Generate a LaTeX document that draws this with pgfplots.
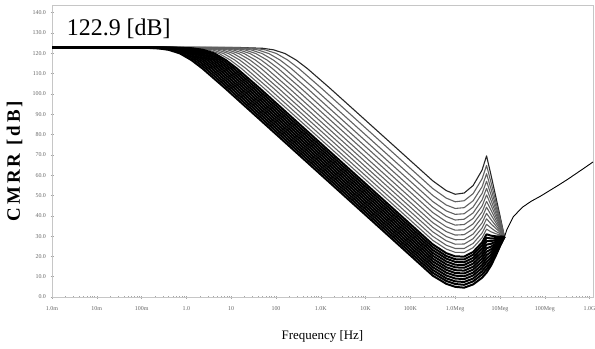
\documentclass[border=0pt]{standalone}
\usepackage{fontspec}
\setmainfont{Liberation Serif}
\usepackage{pgfplots}
\pgfplotsset{compat=1.18}
\begin{document}
\begin{tikzpicture}
\begin{axis}[
  at={(0,0)}, anchor=south west,
  scale only axis, width=541bp, height=292bp,
  xmin=-3, xmax=9.076, ymin=0, ymax=143.8,
  axis line style={gray!45, line width=0.6pt},
  xtick={-3,...,9},
  xticklabels={1.0m,10m,100m,1.0,10,100,1.0K,10K,100K,1.0Meg,10Meg,100Meg,1.0G},
  minor xtick={-2.699,-2.523,-2.398,-2.301,-2.222,-2.155,-2.097,-2.046,
    -1.699,-1.523,-1.398,-1.301,-1.222,-1.155,-1.097,-1.046,
    -0.699,-0.523,-0.398,-0.301,-0.222,-0.155,-0.097,-0.046,
    0.301,0.477,0.602,0.699,0.778,0.845,0.903,0.954,
    1.301,1.477,1.602,1.699,1.778,1.845,1.903,1.954,
    2.301,2.477,2.602,2.699,2.778,2.845,2.903,2.954,
    3.301,3.477,3.602,3.699,3.778,3.845,3.903,3.954,
    4.301,4.477,4.602,4.699,4.778,4.845,4.903,4.954,
    5.301,5.477,5.602,5.699,5.778,5.845,5.903,5.954,
    6.301,6.477,6.602,6.699,6.778,6.845,6.903,6.954,
    7.301,7.477,7.602,7.699,7.778,7.845,7.903,7.954,
    8.301,8.477,8.602,8.699,8.778,8.845,8.903,8.954},
  ytick={0,10,...,140},
  yticklabel={\pgfmathprintnumber[fixed,fixed zerofill,precision=1]{\tick}},
  /pgf/number format/assume math mode=true,
  tick align=center,
  major tick length=3bp, minor tick length=2bp,
  tick style={gray!70, line width=0.5pt},
  xtick pos=bottom, ytick pos=left,
  ticklabel style={font=\fontsize{6}{7}\selectfont, text=black!60},
  xticklabel style={yshift=-5bp},
  yticklabel style={xshift=-1bp},
  xlabel={Frequency [Hz]},
  xlabel style={at={(axis description cs:0.5,0)}, anchor=center, yshift=-39bp, font=\fontsize{13}{15}\selectfont},
  ylabel={\textbf{CMRR [dB]}},
  ylabel style={at={(axis description cs:-0.069,0.47)}, anchor=center, font=\fontsize{19}{21}\selectfont\addfontfeature{LetterSpace=16}},
  clip=true,
  lo/.style={black, line width=2.0pt, line join=round},
  hi/.style={black!62, line width=1.1pt, line join=round},
]
% upper (lighter) curves
\addplot[black!85, line width=1.1pt, line join=round] coordinates {(-3,122.9)(1.20,122.86)(1.70,122.49)(1.95,121.7)(2.20,119.9)(2.45,116.7)(2.70,112.5)(3.20,102.9)(5.5,57.2)(5.8,52.4)(6.0,50.6)(6.2,51.2)(6.4,54.9)(6.6,62.5)(6.7,69.5)(6.8,60.0)(6.9,50.0)(7.0,40.0)(7.1,29.6)};
\addplot[hi] coordinates {(-3,122.9)(1.01,122.86)(1.51,122.49)(1.76,121.7)(2.01,119.9)(2.26,116.7)(2.51,112.5)(3.01,102.9)(5.5,53.4)(5.8,48.7)(6.0,46.9)(6.2,47.4)(6.4,50.9)(6.6,58.2)(6.7,64.8)(6.8,56.4)(6.9,47.6)(7.0,38.8)(7.1,29.6)};
\addplot[hi] coordinates {(-3,122.9)(0.84,122.86)(1.34,122.49)(1.59,121.7)(1.84,119.9)(2.09,116.7)(2.34,112.5)(2.84,102.9)(5.5,50.0)(5.8,45.3)(6.0,43.6)(6.2,44.0)(6.4,47.4)(6.6,54.3)(6.7,60.7)(6.8,53.2)(6.9,45.4)(7.0,37.7)(7.1,29.6)};
\addplot[hi] coordinates {(-3,122.9)(0.69,122.86)(1.19,122.49)(1.44,121.7)(1.69,119.9)(1.94,116.7)(2.19,112.5)(2.69,102.9)(5.5,47.0)(5.8,42.4)(6.0,40.7)(6.2,41.0)(6.4,44.3)(6.6,51.0)(6.7,57.0)(6.8,50.3)(6.9,43.5)(7.0,36.7)(7.1,29.6)};
\addplot[hi] coordinates {(-3,122.9)(0.55,122.86)(1.05,122.49)(1.30,121.7)(1.55,119.9)(1.80,116.7)(2.05,112.5)(2.55,102.9)(5.5,44.2)(5.8,39.7)(6.0,37.9)(6.2,38.3)(6.4,41.4)(6.6,47.8)(6.7,53.5)(6.8,47.6)(6.9,41.7)(7.0,35.8)(7.1,29.6)};
\addplot[hi] coordinates {(-3,122.9)(0.42,122.86)(0.92,122.49)(1.17,121.7)(1.42,119.9)(1.67,116.7)(1.92,112.5)(2.42,102.9)(5.5,41.6)(5.8,37.1)(6.0,35.4)(6.2,35.7)(6.4,38.7)(6.6,44.8)(6.7,50.3)(6.8,45.2)(6.9,40.0)(7.0,35.0)(7.1,29.6)};
\addplot[hi] coordinates {(-3,122.9)(0.29,122.86)(0.79,122.49)(1.04,121.7)(1.29,119.9)(1.54,116.7)(1.79,112.5)(2.29,102.9)(5.5,39.0)(5.8,34.6)(6.0,32.9)(6.2,33.1)(6.4,36.0)(6.6,41.9)(6.7,47.1)(6.8,42.7)(6.9,38.3)(7.0,34.2)(7.1,29.6)};
\addplot[hi] coordinates {(-3,122.9)(0.17,122.86)(0.67,122.49)(0.92,121.7)(1.17,119.9)(1.42,116.7)(1.67,112.5)(2.17,102.9)(5.5,36.6)(5.8,32.2)(6.0,30.5)(6.2,30.7)(6.4,33.5)(6.6,39.2)(6.7,44.2)(6.8,40.4)(6.9,36.8)(7.0,33.4)(7.1,29.6)};
\addplot[hi] coordinates {(-3,122.9)(0.05,122.86)(0.55,122.49)(0.80,121.7)(1.05,119.9)(1.30,116.7)(1.55,112.5)(2.05,102.9)(5.5,34.3)(5.8,29.8)(6.0,28.2)(6.2,28.3)(6.4,31.0)(6.6,36.5)(6.7,41.2)(6.8,38.1)(6.9,35.3)(7.0,32.6)(7.1,29.6)};
\addplot[hi] coordinates {(-3,122.9)(-0.06,122.86)(0.44,122.49)(0.69,121.7)(0.94,119.9)(1.19,116.7)(1.44,112.5)(1.94,102.9)(5.5,32.1)(5.8,27.7)(6.0,26.0)(6.2,26.1)(6.4,28.7)(6.6,34.0)(6.7,38.5)(6.8,36.0)(6.9,33.9)(7.0,31.9)(7.1,29.6)};
\addplot[hi] coordinates {(-3,122.9)(-0.17,122.86)(0.33,122.49)(0.58,121.7)(0.83,119.9)(1.08,116.7)(1.33,112.5)(1.83,102.9)(5.5,29.9)(5.8,25.5)(6.0,23.9)(6.2,23.9)(6.4,26.4)(6.6,31.5)(6.7,35.8)(6.8,34.0)(6.9,32.4)(7.0,31.2)(7.1,29.6)};
\addplot[hi] coordinates {(-3,122.9)(-0.27,122.86)(0.23,122.49)(0.48,121.7)(0.73,119.9)(0.98,116.7)(1.23,112.5)(1.73,102.9)(5.5,27.9)(5.8,23.6)(6.0,22.0)(6.2,21.9)(6.4,24.3)(6.6,29.2)(6.7,33.4)(6.8,32.1)(6.9,31.2)(7.0,30.6)(7.1,29.6)};
% lower (dense, black) curves
\addplot[lo] coordinates {(-3,122.9)(-0.37,122.86)(0.13,122.49)(0.38,121.7)(0.63,119.9)(0.88,116.7)(1.13,112.5)(1.63,102.9)(5.5,25.9)(5.8,21.6)(6.0,20.0)(6.2,19.9)(6.4,22.2)(6.6,26.9)(6.7,30.9)(6.8,30.2)(6.9,29.9)(7.0,29.9)(7.1,29.6)};
\addplot[lo] coordinates {(-3,122.9)(-0.44,122.86)(0.06,122.49)(0.31,121.7)(0.56,119.9)(0.81,116.7)(1.06,112.5)(1.56,102.9)(5.5,24.5)(5.8,20.2)(6.0,18.6)(6.2,18.5)(6.4,20.8)(6.6,25.4)(6.7,29.2)(6.8,28.8)(6.9,29.0)(7.0,29.5)(7.1,29.6)};
\addplot[lo] coordinates {(-3,122.9)(-0.51,122.86)(-0.01,122.49)(0.24,121.7)(0.49,119.9)(0.74,116.7)(0.99,112.5)(1.49,102.9)(5.5,23.1)(5.8,18.9)(6.0,17.3)(6.2,17.1)(6.4,19.3)(6.6,23.8)(6.7,27.5)(6.8,27.5)(6.9,28.1)(7.0,29.0)(7.1,29.6)};
\addplot[lo] coordinates {(-3,122.9)(-0.58,122.86)(-0.08,122.49)(0.17,121.7)(0.42,119.9)(0.67,116.7)(0.92,112.5)(1.42,102.9)(5.5,21.7)(5.8,17.5)(6.0,15.9)(6.2,15.8)(6.4,17.9)(6.6,22.2)(6.7,25.8)(6.8,26.2)(6.9,27.2)(7.0,28.6)(7.1,29.6)};
\addplot[lo] coordinates {(-3,122.9)(-0.65,122.86)(-0.15,122.49)(0.10,121.7)(0.35,119.9)(0.60,116.7)(0.85,112.5)(1.35,102.9)(5.5,20.3)(5.8,16.1)(6.0,14.6)(6.2,14.4)(6.4,16.4)(6.6,20.6)(6.7,24.0)(6.8,24.8)(6.9,26.3)(7.0,28.1)(7.1,29.6)};
\addplot[lo] coordinates {(-3,122.9)(-0.72,122.86)(-0.22,122.49)(0.03,121.7)(0.28,119.9)(0.53,116.7)(0.78,112.5)(1.28,102.9)(5.5,18.9)(5.8,14.7)(6.0,13.2)(6.2,13.0)(6.4,14.9)(6.6,19.0)(6.7,22.3)(6.8,23.5)(6.9,25.4)(7.0,27.7)(7.1,29.6)};
\addplot[lo] coordinates {(-3,122.9)(-0.79,122.86)(-0.29,122.49)(-0.04,121.7)(0.21,119.9)(0.46,116.7)(0.71,112.5)(1.21,102.9)(5.5,17.5)(5.8,13.4)(6.0,11.8)(6.2,11.6)(6.4,13.5)(6.6,17.4)(6.7,20.6)(6.8,22.2)(6.9,24.5)(7.0,27.2)(7.1,29.6)};
\addplot[lo] coordinates {(-3,122.9)(-0.86,122.86)(-0.36,122.49)(-0.11,121.7)(0.14,119.9)(0.39,116.7)(0.64,112.5)(1.14,102.9)(5.5,16.1)(5.8,12.0)(6.0,10.5)(6.2,10.2)(6.4,12.0)(6.6,15.8)(6.7,18.9)(6.8,20.8)(6.9,23.6)(7.0,26.8)(7.1,29.6)};
\addplot[lo] coordinates {(-3,122.9)(-0.93,122.86)(-0.43,122.49)(-0.18,121.7)(0.07,119.9)(0.32,116.7)(0.57,112.5)(1.07,102.9)(5.5,14.7)(5.8,10.6)(6.0,9.1)(6.2,8.8)(6.4,10.6)(6.6,14.3)(6.7,17.2)(6.8,19.5)(6.9,22.7)(7.0,26.3)(7.1,29.6)};
\addplot[lo] coordinates {(-3,122.9)(-1.00,122.86)(-0.50,122.49)(-0.25,121.7)(0.00,119.9)(0.25,116.7)(0.50,112.5)(1.00,102.9)(5.5,13.3)(5.8,9.2)(6.0,7.7)(6.2,7.4)(6.4,9.1)(6.6,12.7)(6.7,15.4)(6.8,18.2)(6.9,21.8)(7.0,25.9)(7.1,29.6)};
\addplot[lo] coordinates {(-3,122.9)(-1.07,122.86)(-0.57,122.49)(-0.32,121.7)(-0.07,119.9)(0.18,116.7)(0.43,112.5)(0.93,102.9)(5.5,11.9)(5.8,7.9)(6.0,6.4)(6.2,6.0)(6.4,7.7)(6.6,11.1)(6.7,13.7)(6.8,16.8)(6.9,20.9)(7.0,25.4)(7.1,29.6)};
\addplot[lo] coordinates {(-3,122.9)(-1.14,122.86)(-0.64,122.49)(-0.39,121.7)(-0.14,119.9)(0.11,116.7)(0.36,112.5)(0.86,102.9)(5.5,10.5)(5.8,6.5)(6.0,5.0)(6.2,4.6)(6.4,6.2)(6.6,9.5)(6.7,12.0)(6.8,15.5)(6.9,20.0)(7.0,25.0)(7.1,29.6)};
% common high-frequency curve
\addplot[black, line width=0.9pt] coordinates {(7.1,29.6)(7.15,33.0)(7.2,35.2)(7.3,39.6)(7.5,44.2)(7.7,47.2)(7.9,49.6)(8.1,52.3)(8.3,55.0)(8.5,57.8)(8.7,60.8)(8.9,63.8)(9.076,66.5)};
\node[anchor=base west, font=\fontsize{24}{26}\selectfont, inner sep=0pt] at (axis cs:-2.67,128.6) {122.9 [dB]};
\end{axis}
\pgfresetboundingbox
\useasboundingbox (-52bp,-52bp) rectangle (543bp,297bp);
\end{tikzpicture}
\end{document}
